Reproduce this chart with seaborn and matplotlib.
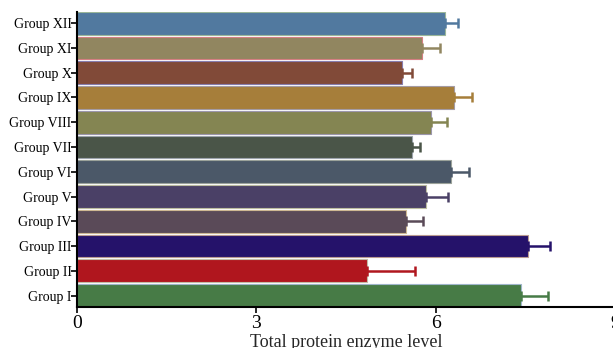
import numpy as np
import pandas as pd
import matplotlib.pyplot as plt
import matplotlib.colors as mcolors
import seaborn as sns

# data, bottom (Group I) to top (Group XII)
groups = ['Group I', 'Group II', 'Group III', 'Group IV', 'Group V', 'Group VI',
          'Group VII', 'Group VIII', 'Group IX', 'Group X', 'Group XI', 'Group XII']
values = [7.43, 4.85, 7.54, 5.50, 5.83, 6.26, 5.61, 5.92, 6.31, 5.44, 5.77, 6.16]
errors = [0.45, 0.80, 0.37, 0.28, 0.38, 0.29, 0.12, 0.26, 0.30, 0.16, 0.30, 0.21]
colors = ['#477b46', '#b0161e', '#25126a', '#5a4a58', '#4a4066', '#4b5868',
          '#4a5548', '#848552', '#a67e3a', '#814a38', '#918660', '#51799f']

df = pd.DataFrame({'group': groups, 'value': values, 'err': errors})
order = groups[::-1]
pal = dict(zip(groups, colors))

sns.set_style('white')
plt.rcParams['font.family'] = ['Liberation Serif', 'DejaVu Serif']

fig = plt.figure(figsize=(6.13, 3.48), dpi=100)
ax = fig.add_axes([0.1256, 0.118, 0.878, 0.848])

sns.barplot(data=df, y='group', x='value', hue='group', order=order,
            palette=pal, legend=False, width=0.92, ax=ax,
            saturation=1, errorbar=None)

# lighter edge on each bar, matching error bars
for patch, g in zip(ax.patches, order):
    c = np.array(mcolors.to_rgb(pal[g]))
    patch.set_edgecolor(c + (1 - c) * 0.45)
    patch.set_linewidth(0.8)

ypos = {g: i for i, g in enumerate(order)}
for g, v, e, c in zip(groups, values, errors, colors):
    ax.errorbar(v, ypos[g], xerr=[[0], [e]], fmt='none', ecolor=c,
                elinewidth=1.8, capsize=3.5, capthick=1.8, zorder=3)

ax.set_xlim(0, 9)
ax.set_ylim(11.46, -0.46)
ax.set_xticks([0, 3, 6, 9])
ax.set_ylabel('')
ax.set_xlabel('Total protein enzyme level', fontsize=13, labelpad=1)

for s in ['top', 'right']:
    ax.spines[s].set_visible(False)
for s in ['left', 'bottom']:
    ax.spines[s].set_color('black')
    ax.spines[s].set_linewidth(1.5)

ax.tick_params(axis='y', length=4, width=1.2, direction='out', left=True,
               pad=0, labelsize=10, colors='black')
ax.tick_params(axis='x', length=4, width=1.2, direction='out', bottom=True,
               pad=2, labelsize=14, colors='black')

fig.savefig('out.png', dpi=100)
